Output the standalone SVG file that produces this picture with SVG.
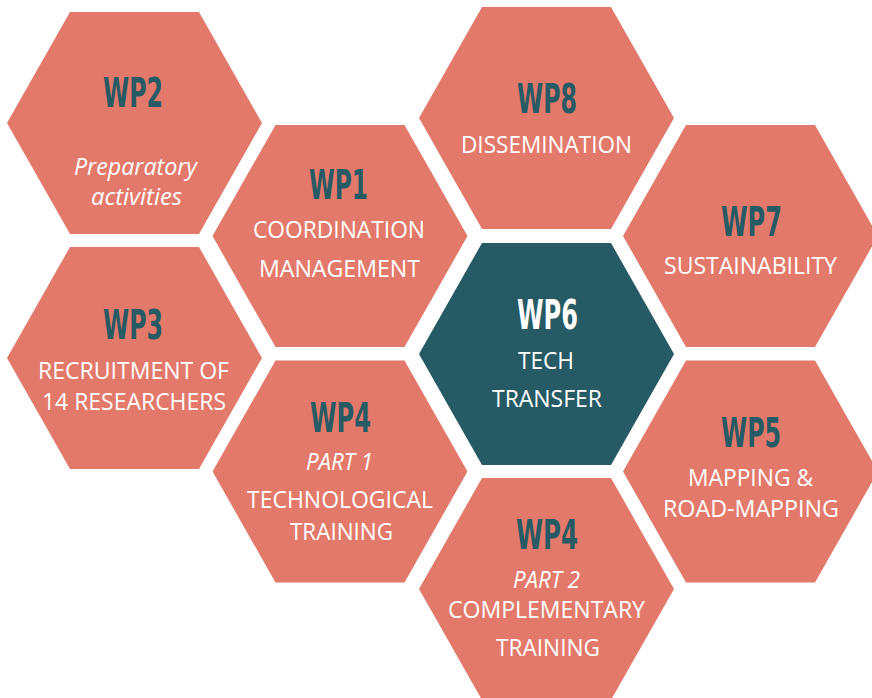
<svg xmlns="http://www.w3.org/2000/svg" xmlns:xlink="http://www.w3.org/1999/xlink" width="872" height="698" viewBox="0 0 872 698">
  <style>
    .hex { fill: #E3796A; }
    .hex-dark { fill: #265A64; }
    .wp { font-family: "DejaVu Sans Condensed", "Liberation Sans Narrow", "Liberation Sans", sans-serif; font-weight: bold; font-size: 40px; fill: #265A64; text-anchor: middle; }
    .wp-light { fill: #FFFFFF; }
    .body { font-family: "Open Sans", "Liberation Sans", sans-serif; font-size: 24px; fill: #FFFFFF; text-anchor: middle; }
    .it { font-style: italic; }
  </style>
  <defs>
    <polygon id="hexshape" points="-127.5,0 -64.5,-111 64.5,-111 127.5,0 64.5,111 -64.5,111"/>
  </defs>
  <rect width="872" height="698" fill="#FFFFFF"/>

  <g id="wp2">
    <use xlink:href="#hexshape" href="#hexshape" class="hex" x="134.5" y="123"/>
    <text class="wp" x="133" y="107" textLength="60" lengthAdjust="spacingAndGlyphs">WP2</text>
    <text class="body it" x="135.5" y="175" textLength="123" lengthAdjust="spacingAndGlyphs">Preparatory</text>
    <text class="body it" x="136.5" y="205" textLength="91" lengthAdjust="spacingAndGlyphs">activities</text>
  </g>

  <g id="wp3">
    <use xlink:href="#hexshape" href="#hexshape" class="hex" x="134.5" y="358"/>
    <text class="wp" x="133" y="339" textLength="60" lengthAdjust="spacingAndGlyphs">WP3</text>
    <text class="body" x="133.5" y="379" textLength="191" lengthAdjust="spacingAndGlyphs">RECRUITMENT OF</text>
    <text class="body" x="134" y="410" textLength="184" lengthAdjust="spacingAndGlyphs">14 RESEARCHERS</text>
  </g>

  <g id="wp1">
    <use xlink:href="#hexshape" href="#hexshape" class="hex" x="340" y="236"/>
    <text class="wp" x="338.5" y="199" textLength="59" lengthAdjust="spacingAndGlyphs">WP1</text>
    <text class="body" x="339" y="238" textLength="172" lengthAdjust="spacingAndGlyphs">COORDINATION</text>
    <text class="body" x="339.5" y="277" textLength="161" lengthAdjust="spacingAndGlyphs">MANAGEMENT</text>
  </g>

  <g id="wp4-part1">
    <use xlink:href="#hexshape" href="#hexshape" class="hex" x="340" y="471.5"/>
    <text class="wp" x="340.5" y="432" textLength="61" lengthAdjust="spacingAndGlyphs">WP4</text>
    <text class="body it" x="339.5" y="470" textLength="67" lengthAdjust="spacingAndGlyphs">PART 1</text>
    <text class="body" x="340" y="508" textLength="186" lengthAdjust="spacingAndGlyphs">TECHNOLOGICAL</text>
    <text class="body" x="341.5" y="540" textLength="103" lengthAdjust="spacingAndGlyphs">TRAINING</text>
  </g>

  <g id="wp8">
    <use xlink:href="#hexshape" href="#hexshape" class="hex" x="546.5" y="118"/>
    <text class="wp" x="547" y="113" textLength="60" lengthAdjust="spacingAndGlyphs">WP8</text>
    <text class="body" x="546.5" y="153" textLength="171" lengthAdjust="spacingAndGlyphs">DISSEMINATION</text>
  </g>

  <g id="wp6">
    <use xlink:href="#hexshape" href="#hexshape" class="hex-dark" x="546.5" y="354"/>
    <text class="wp wp-light" x="547.5" y="329" textLength="61" lengthAdjust="spacingAndGlyphs">WP6</text>
    <text class="body" x="546" y="369" textLength="56" lengthAdjust="spacingAndGlyphs">TECH</text>
    <text class="body" x="547" y="407" textLength="110" lengthAdjust="spacingAndGlyphs">TRANSFER</text>
  </g>

  <g id="wp4-part2">
    <use xlink:href="#hexshape" href="#hexshape" class="hex" x="546.5" y="589"/>
    <text class="wp" x="547" y="549" textLength="62" lengthAdjust="spacingAndGlyphs">WP4</text>
    <text class="body it" x="546.5" y="588" textLength="67" lengthAdjust="spacingAndGlyphs">PART 2</text>
    <text class="body" x="546.5" y="618" textLength="197" lengthAdjust="spacingAndGlyphs">COMPLEMENTARY</text>
    <text class="body" x="548" y="656" textLength="104" lengthAdjust="spacingAndGlyphs">TRAINING</text>
  </g>

  <g id="wp7">
    <use xlink:href="#hexshape" href="#hexshape" class="hex" x="750.5" y="236"/>
    <text class="wp" x="751.5" y="236" textLength="61" lengthAdjust="spacingAndGlyphs">WP7</text>
    <text class="body" x="750.5" y="274" textLength="173" lengthAdjust="spacingAndGlyphs">SUSTAINABILITY</text>
  </g>

  <g id="wp5">
    <use xlink:href="#hexshape" href="#hexshape" class="hex" x="750.5" y="471.5"/>
    <text class="wp" x="751" y="447" textLength="60" lengthAdjust="spacingAndGlyphs">WP5</text>
    <text class="body" x="750.5" y="486" textLength="125" lengthAdjust="spacingAndGlyphs">MAPPING &amp;</text>
    <text class="body" x="751" y="517" textLength="176" lengthAdjust="spacingAndGlyphs">ROAD-MAPPING</text>
  </g>
</svg>
